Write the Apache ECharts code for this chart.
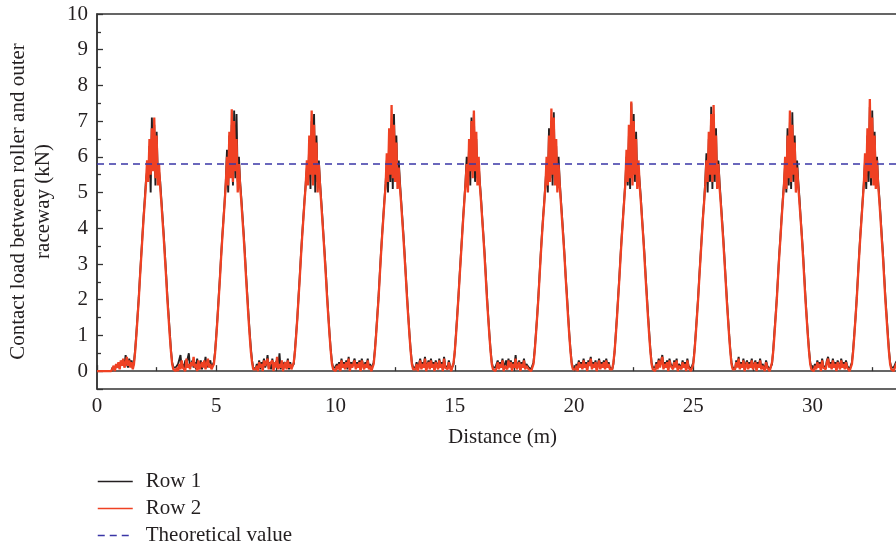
<!DOCTYPE html>
<html>
<head>
<meta charset="utf-8">
<script src="https://cdn.jsdelivr.net/npm/echarts@6/dist/echarts.min.js"></script>
<style>
  html, body { margin: 0; padding: 0; background: #fff; }
  #chart { width: 896px; height: 552px; }
</style>
</head>
<body>
<div id="chart"></div>
<script>
// ---- Data ----
const step = 0.05;          // sampling step of the distance axis, m
const xTicks = [0, 5, 10, 15, 20, 25, 30];
const yTicks = [0, 1, 2, 3, 4, 5, 6, 7, 8, 9, 10];
const theoretical = 5.8;    // kN
const seriesNames = ['Row 1', 'Row 2', 'Theoretical value'];

// Row 1 contact load (kN), one value every 0.05 m
const row1 = [
  0,0,0,0,0,0,0,0,0,0,0,0,0,
  0.1,0.1,0.05,0.15,0.2,0.1,0.15,0.25,0.2,0.3,0.15,0.45,0.2,0.1,0.35,0.2,0.3,
  // peak 1
  0.1,0.25,0.6,1.05,1.55,2.05,2.65,3.2,3.75,4.3,4.8,5.3,
  5.6,5.4,6.3,5.0,7.1,5.7,6.9,5.2,6.7,5.5,5.6,
  5.3,4.8,4.3,3.8,3.25,2.7,2.1,1.6,1.1,0.6,0.25,0.1,
  0.05,0.1,0.05,0.2,0.15,0.45,0.1,0.2,0.05,0.3,0.2,0.15,0.5,0.1,0.2,0.3,0.1,0.25,0.05,0.35,0.1,0.2,0.3,0.05,0.25,0.15,0.4,0.1,0.2,0.15,0.3,0.1,
  // peak 2
  0.05,0.25,0.55,1.0,1.5,2.05,2.6,3.2,3.75,4.25,4.75,5.3,
  6.2,5.0,6.6,5.5,6.9,5.2,7.3,5.4,7.2,5.3,6.0,
  5.3,4.85,4.35,3.85,3.3,2.7,2.15,1.6,1.1,0.65,0.3,0.1,
  0.1,0.05,0.2,0.1,0.3,0.05,0.25,0.15,0.35,0.1,0.2,0.45,0.1,0.25,0.05,0.35,0.1,0.2,0.15,0.3,0.1,0.5,0.05,0.2,0.1,0.25,0.3,0.1,0.35,0.05,0.25,0.1,
  // peak 3
  0.1,0.2,0.6,1.05,1.5,2.1,2.65,3.25,3.8,4.3,4.8,5.25,
  5.7,5.3,6.4,5.1,7.0,5.6,7.2,5.0,6.6,5.3,5.9,
  5.3,4.8,4.3,3.75,3.25,2.7,2.1,1.55,1.05,0.6,0.25,0.1,
  0.05,0.1,0.2,0.1,0.25,0.05,0.35,0.15,0.25,0.1,0.3,0.05,0.4,0.1,0.25,0.15,0.2,0.35,0.1,0.25,0.15,0.3,0.05,0.35,0.2,0.1,0.25,0.15,0.35,0.1,0.2,0.05,
  // peak 4
  0.05,0.25,0.6,1.05,1.55,2.05,2.65,3.25,3.8,4.3,4.8,5.25,
  5.9,5.0,6.5,5.3,6.9,5.1,7.2,5.6,6.6,5.3,5.9,
  5.3,4.8,4.3,3.8,3.25,2.65,2.1,1.55,1.05,0.6,0.25,0.1,
  0.1,0.1,0.25,0.05,0.2,0.35,0.1,0.25,0.15,0.4,0.05,0.2,0.3,0.1,0.35,0.15,0.25,0.05,0.3,0.2,0.1,0.35,0.15,0.25,0.05,0.4,0.15,0.2,0.1,0.3,0.15,0.05,
  // peak 5
  0.1,0.2,0.55,1.05,1.55,2.05,2.65,3.2,3.75,4.3,4.8,5.3,
  6.0,5.3,6.3,5.2,7.1,5.6,7.2,5.3,6.5,5.4,5.8,
  5.3,4.85,4.3,3.8,3.3,2.7,2.1,1.55,1.05,0.6,0.25,0.1,
  0.05,0.1,0.15,0.3,0.1,0.25,0.15,0.35,0.05,0.2,0.3,0.1,0.35,0.15,0.3,0.05,0.25,0.15,0.45,0.1,0.2,0.3,0.05,0.25,0.15,0.35,0.1,0.2,0.25,0.1,0.15,0.05,
  // peak 6
  0.1,0.25,0.6,1.05,1.5,2.05,2.65,3.25,3.8,4.3,4.75,5.25,
  5.8,5.0,6.8,5.4,7.0,5.2,7.25,5.4,6.3,5.2,6.0,
  5.3,4.8,4.3,3.8,3.25,2.65,2.15,1.6,1.05,0.6,0.25,0.1,
  0.1,0.05,0.2,0.1,0.3,0.15,0.25,0.1,0.35,0.15,0.25,0.05,0.3,0.2,0.4,0.1,0.25,0.15,0.3,0.05,0.2,0.35,0.1,0.25,0.15,0.3,0.1,0.35,0.15,0.25,0.1,0.05,
  // peak 7
  0.05,0.2,0.55,1.05,1.55,2.1,2.65,3.25,3.8,4.3,4.8,5.3,
  6.0,5.2,6.6,5.1,7.5,5.5,7.2,5.3,6.7,5.3,5.7,
  5.3,4.85,4.3,3.8,3.3,2.7,2.15,1.6,1.1,0.6,0.25,0.1,
  0.05,0.1,0.25,0.1,0.35,0.15,0.2,0.45,0.1,0.25,0.15,0.3,0.05,0.35,0.2,0.25,0.1,0.3,0.15,0.35,0.05,0.2,0.25,0.1,0.3,0.15,0.25,0.05,0.35,0.15,0.2,0.05,
  // peak 8
  0.1,0.25,0.6,1.05,1.55,2.05,2.65,3.2,3.75,4.3,4.75,5.3,
  6.1,5.0,6.5,5.3,7.4,5.1,7.2,5.3,6.8,5.2,5.9,
  5.3,4.8,4.3,3.8,3.25,2.65,2.1,1.55,1.05,0.6,0.25,0.1,
  0.1,0.05,0.3,0.15,0.4,0.1,0.25,0.15,0.35,0.05,0.2,0.3,0.1,0.25,0.15,0.35,0.1,0.2,0.3,0.05,0.25,0.15,0.35,0.1,0.2,0.25,0.05,0.3,0.15,0.2,0.05,
  // peak 9
  0.1,0.2,0.6,1.1,1.55,2.05,2.65,3.25,3.75,4.3,4.8,5.25,
  5.8,5.0,6.8,5.2,7.0,5.1,7.25,5.3,6.6,5.2,5.9,
  5.3,4.85,4.3,3.8,3.3,2.7,2.1,1.55,1.05,0.6,0.25,0.1,
  0.05,0.1,0.2,0.1,0.3,0.15,0.25,0.05,0.35,0.15,0.2,0.1,0.3,0.4,0.15,0.25,0.1,0.35,0.15,0.25,0.05,0.3,0.2,0.1,0.35,0.15,0.25,0.1,0.3,0.15,0.1,0.05,
  // peak 10
  0.1,0.25,0.6,1.05,1.5,2.05,2.65,3.25,3.8,4.3,4.8,5.3,
  5.9,5.1,6.6,5.3,7.4,5.2,7.3,5.5,6.7,5.3,6.0,
  5.3,4.85,4.35,3.8,3.3,2.7,2.1,1.6,1.1,0.6,0.25,0.1,
  0.05,0.1,0.15,0.25,0.2,0.35
];

// Row 2 contact load (kN), one value every 0.05 m
const row2 = [
  0,0,0,0,0,0,0,0,0,0,0,0,0,
  0.05,0.15,0,0.2,0.1,0.25,0.05,0.3,0.15,0.35,0.1,0.2,0.4,0.15,0.3,0.1,0.25,
  // peak 1
  0.05,0.2,0.55,1.0,1.5,2.0,2.6,3.15,3.7,4.25,4.7,5.2,
  5.9,5.3,6.5,5.5,6.8,5.6,7.1,5.4,6.6,5.2,5.8,
  5.15,4.7,4.2,3.7,3.15,2.6,2.0,1.5,1.0,0.55,0.2,0.05,
  0,0,0.1,0,0.2,0.05,0.3,0.1,0.15,0,0.35,0.1,0.2,0.05,0.25,0.15,0.4,0.1,0.2,0,0.3,0.05,0.15,0.25,0.1,0.3,0.05,0.2,0.35,0.1,0.2,0.05,
  // peak 2
  0.05,0.2,0.5,0.95,1.45,2.0,2.55,3.15,3.7,4.2,4.7,5.25,
  6.0,5.2,6.7,5.4,7.33,5.3,7.0,5.6,6.5,5.0,5.8,
  5.2,4.75,4.25,3.75,3.2,2.6,2.05,1.5,1.0,0.55,0.25,0.05,
  0,0.05,0.15,0,0.25,0.1,0.2,0,0.3,0.15,0.1,0.35,0.05,0.2,0.15,0.3,0,0.25,0.1,0.4,0.05,0.2,0.1,0.3,0,0.15,0.25,0.05,0.3,0.1,0.2,0.05,
  // peak 3
  0.05,0.25,0.55,1.0,1.5,2.05,2.6,3.2,3.75,4.25,4.75,5.2,
  5.9,5.2,6.6,5.5,7.3,5.2,6.9,5.5,6.4,5.0,5.8,
  5.2,4.7,4.2,3.7,3.15,2.6,2.0,1.5,1.0,0.55,0.2,0.05,
  0,0,0.15,0.05,0.2,0,0.3,0.1,0.2,0.05,0.25,0.1,0.35,0,0.2,0.1,0.15,0.3,0.05,0.2,0.1,0.25,0,0.3,0.15,0.05,0.2,0.1,0.3,0.05,0.15,0,
  // peak 4
  0.05,0.2,0.55,1.0,1.5,2.0,2.6,3.2,3.75,4.25,4.75,5.2,
  6.1,5.3,6.8,5.5,7.45,5.4,6.9,5.3,6.4,5.1,5.7,
  5.15,4.7,4.2,3.7,3.15,2.6,2.0,1.5,1.0,0.55,0.2,0.05,
  0,0.05,0.2,0,0.15,0.3,0.05,0.2,0.1,0.35,0,0.15,0.25,0.05,0.3,0.1,0.2,0,0.25,0.15,0.05,0.3,0.1,0.2,0,0.35,0.1,0.15,0.05,0.25,0.1,0,
  // peak 5
  0.05,0.25,0.55,1.0,1.5,2.05,2.6,3.15,3.7,4.25,4.75,5.25,
  5.8,5.0,6.5,5.6,7.0,5.4,7.3,5.6,6.7,5.2,6.0,
  5.2,4.75,4.25,3.75,3.2,2.6,2.0,1.5,1.0,0.55,0.2,0.05,
  0,0,0.1,0.25,0.05,0.2,0.1,0.3,0,0.15,0.2,0.05,0.3,0.1,0.25,0,0.2,0.1,0.35,0.05,0.15,0.25,0,0.2,0.1,0.3,0.05,0.15,0.2,0.05,0.1,0,
  // peak 6
  0.05,0.2,0.55,1.0,1.5,2.0,2.6,3.2,3.75,4.25,4.7,5.2,
  6.0,5.2,6.6,5.3,7.35,5.5,7.1,5.2,6.5,5.0,5.8,
  5.2,4.7,4.2,3.7,3.2,2.6,2.05,1.5,1.0,0.55,0.2,0.05,
  0,0.05,0.15,0,0.25,0.1,0.2,0.05,0.3,0.1,0.2,0,0.25,0.15,0.35,0.05,0.2,0.1,0.25,0,0.15,0.3,0.05,0.2,0.1,0.25,0.05,0.3,0.1,0.2,0.05,0,
  // peak 7
  0.05,0.25,0.55,1.0,1.5,2.05,2.6,3.2,3.75,4.25,4.75,5.25,
  6.2,5.3,6.9,5.4,7.55,5.2,7.0,5.5,6.5,5.1,5.9,
  5.2,4.75,4.25,3.75,3.2,2.6,2.05,1.5,1.0,0.55,0.2,0.05,
  0,0,0.2,0.05,0.3,0.1,0.15,0.4,0.05,0.2,0.1,0.25,0,0.3,0.15,0.2,0.05,0.25,0.1,0.3,0,0.15,0.2,0.05,0.25,0.1,0.2,0,0.3,0.1,0.15,0,
  // peak 8
  0.05,0.2,0.55,1.0,1.5,2.0,2.6,3.15,3.7,4.25,4.7,5.2,
  5.9,5.3,6.7,5.5,7.2,5.3,7.45,5.5,6.6,5.1,5.8,
  5.15,4.7,4.2,3.7,3.15,2.6,2.0,1.5,1.0,0.55,0.2,0.05,
  0,0.05,0.25,0.1,0.35,0.05,0.2,0.1,0.3,0,0.15,0.25,0.05,0.2,0.1,0.3,0.05,0.15,0.25,0,0.2,0.1,0.3,0.05,0.15,0.2,0,0.25,0.1,0.15,0,
  // peak 9
  0.05,0.25,0.55,1.0,1.5,2.0,2.6,3.2,3.7,4.25,4.75,5.2,
  6.0,5.1,6.6,5.4,7.3,5.3,6.9,5.5,6.4,5.0,5.7,
  5.2,4.7,4.25,3.75,3.2,2.6,2.0,1.5,1.0,0.55,0.2,0.05,
  0,0,0.15,0.05,0.25,0.1,0.2,0,0.3,0.1,0.15,0.05,0.25,0.35,0.1,0.2,0.05,0.3,0.1,0.2,0,0.25,0.15,0.05,0.3,0.1,0.2,0.05,0.25,0.1,0.05,0,
  // peak 10
  0.05,0.2,0.55,1.0,1.5,2.0,2.6,3.2,3.75,4.25,4.75,5.25,
  6.1,5.3,6.8,5.6,7.62,5.4,7.1,5.2,6.6,5.1,5.9,
  5.2,4.75,4.25,3.7,3.2,2.6,2.0,1.5,1.0,0.55,0.2,0.05,
  0,0,0.1,0.2,0.15,0.3
];

// ---- Chart ----
const FONT = "'Liberation Serif', 'Times New Roman', serif";
const TEXT = '#231f20';
const xMin = 0, xMax = 34, yMin = -0.5, yMax = 10;

const distance = row2.map((_, i) => +(i * step).toFixed(2));
const pairs = (vals) => vals.map((v, i) => [distance[i], v]).filter(p => p[0] !== undefined);

const chart = echarts.init(document.getElementById('chart'), null, { renderer: 'canvas' });
chart.setOption({
  animation: false,
  backgroundColor: '#ffffff',
  grid: {
    left: 97, top: 14, right: -12, bottom: 163,
    outerBoundsMode: 'none', containLabel: false,
    show: true, borderColor: '#333333', borderWidth: 1.5, backgroundColor: 'transparent'
  },
  legend: {
    orient: 'vertical',
    left: 97, top: 471, padding: 0, height: 80,
    itemWidth: 35, itemHeight: 14, itemGap: 6,
    data: seriesNames,
    itemStyle: { opacity: 0 },
    lineStyle: { width: 1.5 },
    textStyle: { fontFamily: FONT, fontSize: 21, lineHeight: 21, color: TEXT, padding: [0, 0, 0, 8] }
  },
  xAxis: {
    type: 'value',
    min: xMin, max: xMax, interval: xTicks[1] - xTicks[0],
    name: 'Distance (m)', nameLocation: 'middle', nameGap: 38,
    nameTextStyle: { fontFamily: FONT, fontSize: 21, color: TEXT },
    axisLine: { show: true, lineStyle: { color: '#333333', width: 1.5 } },
    axisTick: { show: true, inside: true, length: 6, lineStyle: { color: '#333333', width: 1.3 } },
    minorTick: { show: true, splitNumber: 2, length: 4, lineStyle: { color: '#333333', width: 1.3 } },
    splitLine: { show: false },
    axisLabel: {
      fontFamily: FONT, fontSize: 21, color: TEXT, margin: 7, showMaxLabel: false,
      formatter: (v) => (xTicks.includes(v) ? String(v) : '')
    }
  },
  yAxis: {
    type: 'value',
    min: yMin, max: yMax, splitNumber: 10,
    name: 'Contact load between roller and outer\nraceway (kN)',
    nameLocation: 'middle', nameRotate: 90, nameGap: 40,
    nameTextStyle: { fontFamily: FONT, fontSize: 21, color: TEXT, lineHeight: 25 },
    axisLine: { show: true, lineStyle: { color: '#333333', width: 1.5 } },
    axisTick: { show: true, inside: true, length: 6, lineStyle: { color: '#333333', width: 1.3 } },
    minorTick: { show: true, splitNumber: 2, length: 4, lineStyle: { color: '#333333', width: 1.3 } },
    splitLine: { show: false },
    axisLabel: {
      fontFamily: FONT, fontSize: 21, color: TEXT, margin: 9, showMinLabel: false,
      formatter: (v) => (yTicks.includes(v) ? String(v) : '')
    }
  },
  series: [
    {
      name: seriesNames[0], type: 'line', data: pairs(row1),
      symbol: 'none', lineStyle: { color: '#231f20', width: 1.9 }, itemStyle: { color: '#231f20' },
      z: 2
    },
    {
      name: seriesNames[1], type: 'line', data: pairs(row2),
      symbol: 'none', lineStyle: { color: '#ef4123', width: 2.3 }, itemStyle: { color: '#ef4123' },
      z: 3
    },
    {
      name: seriesNames[2], type: 'line', data: [[xMin, theoretical], [xMax, theoretical]],
      symbol: 'none', lineStyle: { color: '#3a36a6', width: 1.6, type: [7, 5] }, itemStyle: { color: '#3a36a6' },
      z: 4
    }
  ]
});
</script>
</body>
</html>
